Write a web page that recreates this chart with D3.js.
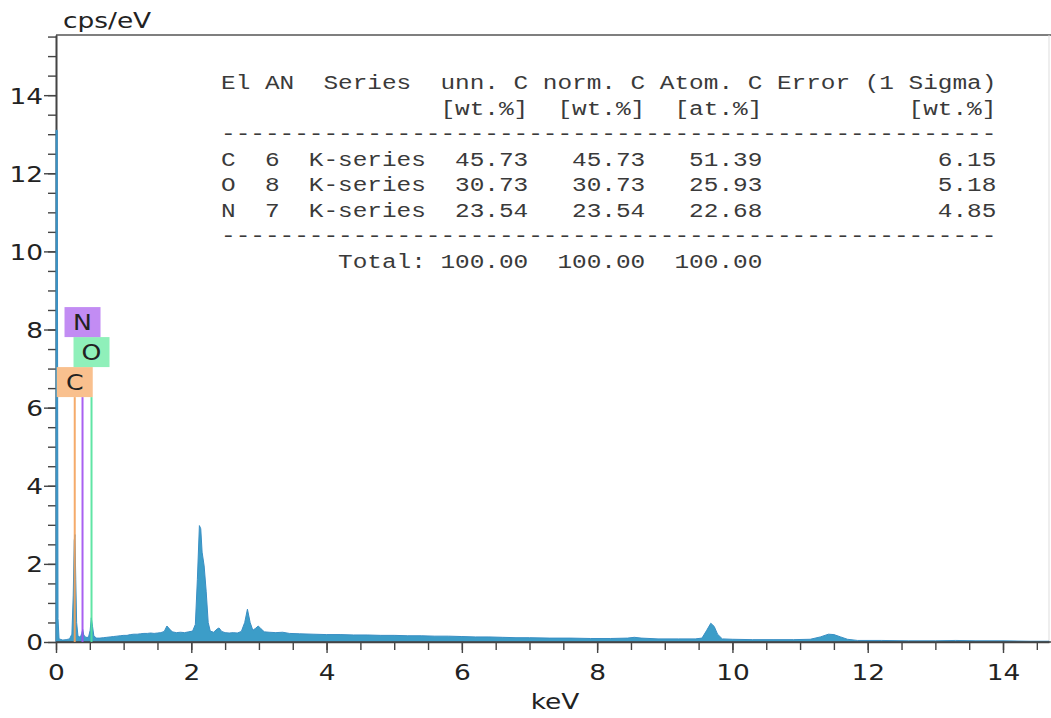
<!DOCTYPE html>
<html>
<head>
<meta charset="utf-8">
<script src="https://cdn.jsdelivr.net/npm/d3@7"></script>
<style>
  html, body { margin: 0; padding: 0; background: #fff; }
  svg { display: block; }
</style>
</head>
<body>
<div id="chart"></div>
<script>
// ---------------- DATA ----------------
// Spectrum (keV, cps/eV)
const energyKeV = [0.000,0.001,0.018,0.030,0.045,0.10,0.15,0.20,0.235,0.255,0.270,0.280,0.292,0.305,0.325,0.36,0.38,0.395,0.41,0.44,0.48,0.505,0.522,0.54,0.56,0.60,0.65,0.70,0.75,0.80,0.85,0.90,0.95,1.00,1.05,1.10,1.15,1.20,1.25,1.30,1.35,1.40,1.45,1.50,1.55,1.60,1.64,1.68,1.72,1.78,1.84,1.90,1.96,2.02,2.06,2.09,2.12,2.14,2.16,2.19,2.22,2.25,2.28,2.33,2.38,2.41,2.45,2.50,2.56,2.62,2.68,2.74,2.79,2.83,2.87,2.91,2.95,2.99,3.03,3.08,3.15,3.25,3.35,3.45,3.6,3.8,4.0,4.2,4.4,4.6,4.8,5.0,5.2,5.4,5.6,5.8,6.0,6.2,6.4,6.6,6.8,7.0,7.3,7.6,7.9,8.2,8.45,8.55,8.65,8.9,9.2,9.45,9.55,9.62,9.68,9.73,9.78,9.85,10.0,10.3,10.6,10.9,11.15,11.3,11.42,11.5,11.6,11.7,11.85,12.2,12.6,13.0,13.3,13.6,14.0,14.4,14.68];
const countsCps = [0.00,13.1,13.1,0.6,0.08,0.05,0.06,0.08,0.2,1.2,2.6,2.75,1.6,0.5,0.15,0.12,0.22,0.32,0.18,0.12,0.12,0.3,0.62,0.4,0.15,0.1,0.1,0.11,0.12,0.13,0.14,0.15,0.16,0.17,0.17,0.19,0.2,0.2,0.21,0.22,0.22,0.23,0.22,0.23,0.24,0.27,0.41,0.33,0.26,0.24,0.25,0.24,0.26,0.28,0.45,1.6,2.98,2.9,2.3,1.95,1.3,0.5,0.28,0.25,0.33,0.36,0.27,0.24,0.23,0.24,0.23,0.27,0.5,0.84,0.5,0.3,0.35,0.41,0.34,0.26,0.25,0.24,0.25,0.22,0.21,0.2,0.19,0.19,0.18,0.18,0.17,0.17,0.16,0.16,0.15,0.15,0.14,0.13,0.13,0.12,0.11,0.11,0.1,0.1,0.09,0.09,0.1,0.12,0.1,0.08,0.08,0.08,0.1,0.3,0.48,0.4,0.2,0.08,0.07,0.06,0.06,0.06,0.07,0.13,0.2,0.19,0.13,0.07,0.04,0.04,0.03,0.03,0.04,0.03,0.03,0.02,0.02];

// Element markers / quantification table (table order)
const elements      = ["C", "O", "N"];
const atomicNumbers = [6, 8, 7];
const lineEnergies  = [0.277, 0.525, 0.392];
const seriesNames   = ["K-series", "K-series", "K-series"];
const unnC          = ["45.73", "30.73", "23.54"];
const normC         = ["45.73", "30.73", "23.54"];
const atomC         = ["51.39", "25.93", "22.68"];
const errorSigma    = ["6.15", "5.18", "4.85"];
const totals        = ["100.00", "100.00", "100.00"];
const markerTop     = 6.27;

// Axis ticks
const xMajorTicks = [0, 2, 4, 6, 8, 10, 12, 14];
const yMajorTicks = [0, 2, 4, 6, 8, 10, 12, 14];
const xLabel = "keV";
const yLabel = "cps/eV";

// ---------------- STYLE ----------------
const W = 1051, H = 718;
const elemStyle = {
  C: { box: "#f9c08e", line: "#f5a25a" },
  O: { box: "#8ff0ba", line: "#4fe39c" },
  N: { box: "#c28cf3", line: "#a04ff0" }
};
const stretch = 1.2;

const svg = d3.select("#chart").append("svg")
  .attr("width", W).attr("height", H)
  .attr("font-family", "'DejaVu Sans', Verdana, sans-serif");

const x = d3.scaleLinear().domain([0, 14.68]).range([56, 1049]);
const y = d3.scaleLinear().domain([0, 15.54]).range([642, 35]);

// frame (top + faint right)
svg.append("line").attr("x1", x(0)).attr("x2", W).attr("y1", y(15.54)).attr("y2", y(15.54))
  .attr("stroke", "#555").attr("stroke-width", 1.5);
svg.append("line").attr("x1", x(14.68)).attr("x2", x(14.68)).attr("y1", y(15.54)).attr("y2", y(0))
  .attr("stroke", "#ddd").attr("stroke-width", 1);

function styleAxis(g) {
  g.select(".domain").attr("stroke", "#444").attr("stroke-width", 1.6);
  g.selectAll(".tick line").attr("stroke", "#444").attr("stroke-width", 1.4);
}
const xMinor = d3.range(0, 14.51, 0.5);
const yMinor = d3.range(0, 15.51, 0.5);

// y axis (drawn under the spectrum)
svg.append("g").attr("transform", `translate(${x(0)},0)`)
  .call(d3.axisLeft(y).tickValues(yMinor).tickSize(8).tickFormat("").tickSizeOuter(0))
  .call(styleAxis);
const gy = svg.append("g").attr("transform", `translate(${x(0)},0)`)
  .call(d3.axisLeft(y).tickValues(yMajorTicks).tickSize(12).tickFormat(d3.format("d")).tickSizeOuter(0))
  .call(styleAxis);
gy.selectAll(".tick text").attr("x", 0).attr("dy", "0.36em")
  .attr("transform", `translate(-13,0) scale(${stretch},1)`)
  .attr("font-size", 22).attr("font-family", "'DejaVu Sans', Verdana, sans-serif").attr("fill", "#222");

// spectrum
const pts = energyKeV.map((e, i) => [e, countsCps[i]]);
const area = d3.area().x(d => x(d[0])).y0(y(0)).y1(d => y(d[1]));
svg.append("path").datum(pts).attr("d", area)
  .attr("fill", "#3c9dc8").attr("stroke", "#3a8fc4").attr("stroke-width", 1);

// x axis
svg.append("g").attr("transform", `translate(0,${y(0)})`)
  .call(d3.axisBottom(x).tickValues(xMinor).tickSize(8).tickFormat("").tickSizeOuter(0))
  .call(styleAxis);
const gx = svg.append("g").attr("transform", `translate(0,${y(0)})`)
  .call(d3.axisBottom(x).tickValues(xMajorTicks).tickSize(11).tickFormat(d3.format("d")).tickSizeOuter(0))
  .call(styleAxis);
gx.selectAll(".tick text").attr("y", 0).attr("dy", null)
  .attr("transform", `translate(0,38) scale(${stretch},1)`)
  .attr("font-size", 22).attr("font-family", "'DejaVu Sans', Verdana, sans-serif").attr("fill", "#222");
gx.select(".domain").attr("d", `M${x(0)},0H${W}`);

// element marker lines
elements.forEach((el, i) => {
  svg.append("line")
    .attr("x1", x(lineEnergies[i])).attr("x2", x(lineEnergies[i]))
    .attr("y1", y(0)).attr("y2", y(markerTop))
    .attr("stroke", elemStyle[el].line).attr("stroke-width", 2).attr("opacity", 0.9);
});
// element label boxes stacked in table order
const boxW = 36, boxH = 30;
elements.forEach((el, i) => {
  const cx = x(lineEnergies[i]);
  const bottom = y(markerTop) - i * boxH;
  svg.append("rect").attr("x", cx - boxW / 2).attr("y", bottom - boxH)
    .attr("width", boxW).attr("height", boxH).attr("fill", elemStyle[el].box);
  svg.append("text")
    .attr("transform", `translate(${cx},${bottom - 7}) scale(${stretch},1)`)
    .attr("text-anchor", "middle").attr("font-size", 21).attr("fill", "#222")
    .text(el);
});

// axis titles
svg.append("text").attr("transform", `translate(63,28) scale(${stretch},1)`)
  .attr("font-size", 22).attr("fill", "#222").text(yLabel);
svg.append("text").attr("transform", `translate(555,709) scale(${stretch},1)`)
  .attr("text-anchor", "middle").attr("font-size", 22).attr("fill", "#222").text(xLabel);

// quantification table (monospace text block)
const pad = (s, n) => String(s).padStart(n, " ");
const padR = (s, n) => String(s).padEnd(n, " ");
const tableLines = [];
tableLines.push("El AN  Series  unn. C norm. C Atom. C Error (1 Sigma)");
tableLines.push(" ".repeat(15) + "[wt.%]  [wt.%]  [at.%]" + " ".repeat(10) + "[wt.%]");
tableLines.push("-".repeat(53));
elements.forEach((el, i) => {
  tableLines.push(padR(el, 2) + pad(atomicNumbers[i], 2) + "  " + padR(seriesNames[i], 8) +
    pad(unnC[i], 7) + pad(normC[i], 8) + pad(atomC[i], 8) + pad(errorSigma[i], 16));
});
tableLines.push("-".repeat(53));
tableLines.push("        Total:" + pad(totals[0], 7) + pad(totals[1], 8) + pad(totals[2], 8));

const tbl = svg.append("g").attr("transform", `translate(221,0) scale(1.19,1)`);
tableLines.forEach((line, i) => {
  tbl.append("text")
    .attr("x", 0).attr("y", 89.5 + i * 25.5)
    .attr("font-family", "'Liberation Mono', 'Courier New', monospace")
    .attr("font-size", 20.5).attr("fill", "#3a3a3a")
    .style("white-space", "pre")
    .text(line);
});
</script>
</body>
</html>
